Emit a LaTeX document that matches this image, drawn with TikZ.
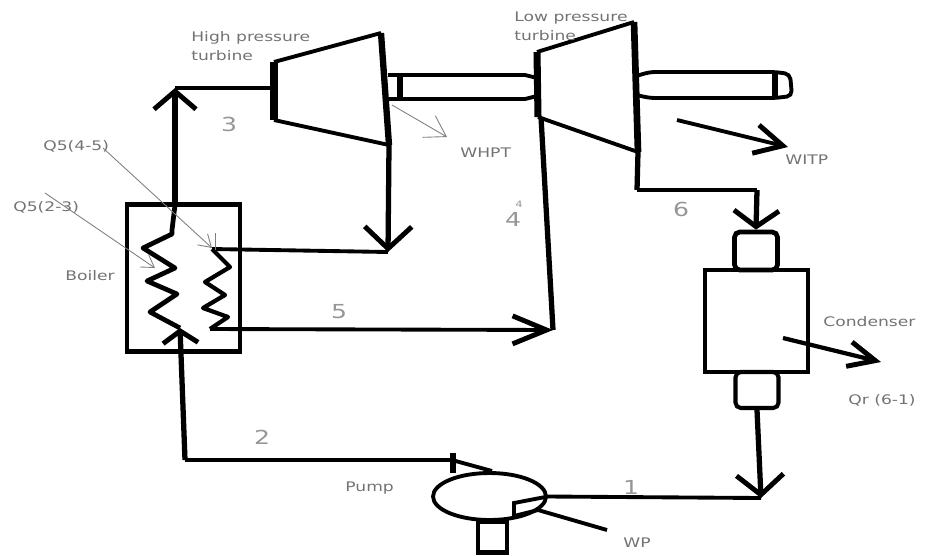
\documentclass[tikz,border=0pt]{standalone}
\usepackage{fontspec}
\setmainfont[FakeStretch=1.3]{DejaVu Sans}
\usepackage{tikz}
\usetikzlibrary{shapes,arrows.meta}
\definecolor{labelgray}{RGB}{115,115,115}
\definecolor{numgray}{RGB}{150,150,150}
\tikzset{
    pipe/.style={line width=3pt, line join=miter},
    thinpipe/.style={line width=2.2pt},
    barb/.style 2 args={-{Straight Barb[length=#1, width=#2, line width=2.8pt]}},
    heatarrow/.style={draw=gray, line width=0.5pt, -{Straight Barb[length=2.4mm, width=3mm]}},
    vessel/.style={draw, line width=2.7pt, inner sep=0pt},
    caption/.style={font=\fontsize{7.5}{11}\selectfont, text=labelgray, inner sep=0pt, anchor=west, align=left},
    statenum/.style={font=\fontsize{11}{11}\selectfont, text=numgray, inner sep=0pt}
}
\begin{document}
\begin{tikzpicture}[x=0.02cm, y=-0.02cm]
    \useasboundingbox (0,0) rectangle (925,555);
    % Points on the cycle
    \coordinate (hpA) at (274,62);
    \coordinate (hpB) at (381,33);
    \coordinate (hpC) at (389,145);
    \coordinate (hpD) at (274,120);
    \coordinate (lpA) at (537,52);
    \coordinate (lpB) at (634,22);
    \coordinate (lpC) at (638,152);
    \coordinate (lpD) at (538,117);
    \coordinate (top) at (175,88);
    \coordinate (hpIn) at (274,88);
    \coordinate (coilTop) at (175,205);
    \coordinate (coilEnd) at (180,328);
    \coordinate (reheatTop) at (212,249);
    \coordinate (reheatEnd) at (210,329);
    \coordinate (hpTip) at (388,252);
    \coordinate (lpTip) at (553,330);
    \coordinate (corner6) at (637,190);
    \coordinate (bend6) at (757,190);
    \coordinate (junction) at (761,498);
    \coordinate (corner2) at (185,460);
    \coordinate (tick2) at (452,460);
    % Boiler, condenser and pump
    \node[vessel, minimum width=2.26cm, minimum height=2.94cm] (boiler) at (183.5,278) {};
    \node[vessel, minimum width=2.06cm, minimum height=2.04cm] (cond) at (756.5,321) {};
    \node[vessel, rounded corners=3pt, minimum width=0.86cm, minimum height=0.76cm] (condTop) at (756,251) {};
    \node[vessel, rounded corners=3pt, line width=2.3pt, minimum width=0.86cm, minimum height=0.72cm] (condBot) at (757,390) {};
    \node[ellipse, draw, line width=2.2pt, minimum width=2.26cm, minimum height=0.94cm, inner sep=0pt] (pump) at (489.5,496.5) {};
    \node[vessel, minimum width=0.58cm, minimum height=0.62cm] (pumpBase) at (492.5,537) {};
    % Turbines
    \draw[thinpipe] (hpA) -- (hpB);
    \draw[thinpipe] (hpD) -- (hpC);
    \draw[line width=3.6pt] (hpB) -- (hpC);
    \draw[line width=4pt] (hpA) -- (hpD);
    \draw[thinpipe] (lpA) -- (lpB);
    \draw[thinpipe] (lpD) -- (lpC);
    \draw[line width=3.8pt] (lpB) -- (lpC);
    \draw[line width=4pt] (lpA) -- (lpD);
    % Shafts
    \draw[thinpipe] (388,75) -- (525,75) -- (537,78);
    \draw[thinpipe] (388,99) -- (525,99) -- (537,96);
    \draw[line width=3pt] (400,75) -- (400,99);
    \draw[thinpipe, rounded corners=3pt] (636,76) -- (650,72) -- (775,72) -- (790,74) -- (792,96) -- (775,98) -- (650,98) -- (636,95);
    \draw[line width=3.6pt] (775,72) -- (775,98);
    % Main pipes
    \draw[pipe, barb={3.6mm}{8.4mm}] (coilTop) -- (top);
    \draw[thinpipe] (top) -- (hpIn);
    \draw[line width=2.7pt, line join=round] (coilTop) -- (172,230) -- (172,234) -- (143,248) -- (175,268) -- (147,281) -- (177,294) -- (150,312) -- (coilEnd);
    \draw[line width=2.4pt, line join=round] (reheatTop) -- (230,267) -- (205,282) -- (225,295) -- (203,308) -- (228,317) -- (reheatEnd);
    \draw[pipe, barb={4.4mm}{9.4mm}] (hpC) -- (hpTip);
    \draw[thinpipe] (reheatTop) -- (hpTip);
    \draw[thinpipe, barb={6.8mm}{5.6mm}] (reheatEnd) -- (lpTip);
    \draw[pipe] (lpD) ++(3,0) -- (lpTip);
    \draw[pipe] (lpC) -- (corner6);
    \draw[thinpipe] (corner6) -- (bend6);
    \draw[pipe, barb={3.2mm}{9mm}] (bend6) -- (condTop.north);
    \draw[pipe, barb={4mm}{9.4mm}] (condBot.south) -- (junction);
    \draw[thinpipe] (pump.east) -- (junction);
    \draw[pipe, barb={2.4mm}{7mm}] (corner2) -- (coilEnd);
    \draw[thinpipe] (corner2) -- (tick2);
    \draw[line width=3pt] (453,453) -- (453,473);
    \draw[thinpipe] (tick2) -- (492,471);
    % Work and heat arrows
    \coordinate (wpStart) at (607,530);
    \coordinate (wpBarb) at (538,510);
    \draw[thinpipe] (wpStart) -- (wpBarb) -- (514,516) -- (514,503) -- (pump.east);
    \draw[line width=2.4pt, barb={5.4mm}{5mm}] (783,338) -- (881,362);
    \draw[thinpipe, barb={5.6mm}{5.8mm}] (677,120) -- (788,147);
    \draw[draw=gray, line width=0.5pt, -{Straight Barb[length=4mm, width=5mm]}] (392,105) -- (447,137);
    \draw[heatarrow] (103,148) -- (212,248);
    \draw[draw=gray, line width=0.5pt] (215,233) -- (215,250);
    \draw[heatarrow] (45,193) -- (155,268);
    % Labels
    \node[caption] (lblHigh) at (191,46) {High pressure\\turbine};
    \node[caption] (lblLow) at (514,26) {Low pressure\\turbine};
    \node[caption] (lblWhpt) at (460,153) {WHPT};
    \node[caption] (lblWitp) at (785,160) {WITP};
    \node[caption] (lblQ45) at (43,146) {Q5(4-5)};
    \node[caption] (lblQ23) at (13,207) {Q5(2-3)};
    \node[caption] (lblBoiler) at (65,276) {Boiler};
    \node[caption] (lblCond) at (823,322) {Condenser};
    \node[caption] (lblQr) at (848,400) {Qr (6-1)};
    \node[caption] (lblPump) at (345,488) {Pump};
    \node[caption] (lblWp) at (623,543) {WP};
    \node[statenum] (num3) at (229,124) {3};
    \node[statenum] (num4) at (513,219) {4};
    \node[font=\fontsize{5}{5}\selectfont, text=numgray, inner sep=0pt] (num4s) at (519,204) {4};
    \node[statenum] (num5) at (339,312) {5};
    \node[statenum] (num6) at (681,209) {6};
    \node[statenum] (num2) at (262,437) {2};
    \node[statenum] (num1) at (631,487) {1};
\end{tikzpicture}
\end{document}
